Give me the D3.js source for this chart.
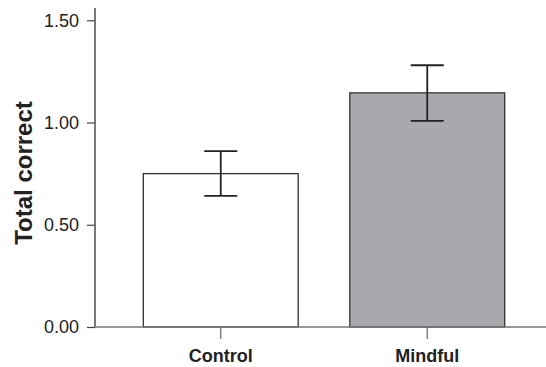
<!DOCTYPE html>
<html><head><meta charset="utf-8">
<script src="https://cdn.jsdelivr.net/npm/d3@7"></script>
<style>body{margin:0;background:#fff}svg{display:block}</style>
</head><body>
<svg id="c" width="546" height="367"></svg>
<script>
const categories = ["Control", "Mindful"];
const means = [0.75, 1.145];
const errLow = [0.641, 1.008];
const errHigh = [0.86, 1.28];
const fills = ["#ffffff", "#a8a9ac"];
const yTicks = [0, 0.5, 1.0, 1.5];

const svg = d3.select("#c");
const x = d3.scaleBand().domain(categories).range([95, 553]).paddingInner(0.25).paddingOuter(0.234);
const y = d3.scaleLinear().domain([0, 1.56]).range([327, 8]);

// bars
svg.selectAll("rect.bar").data(categories).enter().append("rect")
  .attr("x", d => x(d)).attr("width", x.bandwidth())
  .attr("y", (d,i) => y(means[i])).attr("height", (d,i) => y(0) - y(means[i]))
  .attr("fill", (d,i) => fills[i]).attr("stroke", "#333").attr("stroke-width", 1.3);

// error bars
const cap = 33;
categories.forEach((d,i) => {
  const cx = x(d) + x.bandwidth()/2;
  const g = svg.append("g").attr("stroke", "#222").attr("stroke-width", 1.8);
  g.append("line").attr("x1", cx).attr("x2", cx).attr("y1", y(errHigh[i])).attr("y2", y(errLow[i]));
  g.append("line").attr("x1", cx-cap/2).attr("x2", cx+cap/2).attr("y1", y(errHigh[i])).attr("y2", y(errHigh[i]));
  g.append("line").attr("x1", cx-cap/2).attr("x2", cx+cap/2).attr("y1", y(errLow[i])).attr("y2", y(errLow[i]));
});

// y axis
const ya = svg.append("g").attr("transform", "translate(95,0)")
  .call(d3.axisLeft(y).tickValues(yTicks).tickFormat(d3.format(".2f")).tickSize(8).tickPadding(8));
ya.select(".domain").attr("stroke", "#333").attr("stroke-width", 1.3).attr("d", "M0,8V327");
ya.selectAll(".tick line").attr("stroke", "#444").attr("stroke-width", 1.2);
ya.selectAll(".tick text").attr("font-family", "Liberation Sans, Arial, sans-serif").attr("font-size", 18).attr("fill", "#222");

// x axis
const xa = svg.append("g").attr("transform", "translate(0,327)")
  .call(d3.axisBottom(x).tickSize(12).tickPadding(8));
xa.select(".domain").attr("stroke", "#777").attr("stroke-width", 1.3).attr("d", "M95,0H546");
xa.selectAll(".tick line").attr("stroke", "#666").attr("stroke-width", 1.2);
xa.selectAll(".tick text").attr("font-family", "Liberation Sans, Arial, sans-serif").attr("font-size", 18)
  .attr("font-weight", "bold").attr("fill", "#222").attr("dy", null).attr("y", 34.5);

// y label
svg.append("text").attr("transform", "translate(32,173) rotate(-90)").attr("text-anchor", "middle")
  .attr("font-family", "Liberation Sans, Arial, sans-serif").attr("font-size", 24).attr("font-weight", "bold")
  .attr("fill", "#222").text("Total correct");
</script>
</body></html>
